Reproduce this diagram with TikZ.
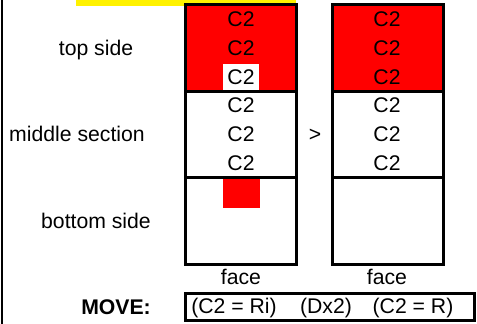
\documentclass[tikz,border=0pt]{standalone}
\usepackage{fontspec}
\setmainfont{Liberation Sans}
\usepackage{tikz}

\begin{document}
\begin{tikzpicture}[x=0.5pt,y=-0.5pt]
            \tikzstyle{every node}=[font=\fontsize{10.6}{12}\selectfont, inner sep=0pt, anchor=base]
            \tikzstyle{face}=[draw, line width=1.5pt]
            \tikzstyle{lit}=[fill=red]
            \useasboundingbox (0,0) rectangle (477,324);
            \fill[yellow] (76,0) rectangle (296,6);
            \draw[line width=1pt] (2,0) -- (2,324);
            % left face
            \fill[lit] (185,5) rectangle (296,92);
            \fill[lit] (223,179) rectangle (260,208);
            \draw[face] (185,5) rectangle (296,265);
            \draw[face] (185,92) -- (296,92) (185,178) -- (296,178);
            % right face
            \fill[lit] (332,5) rectangle (443,92);
            \draw[face] (332,5) rectangle (443,265);
            \draw[face] (332,92) -- (443,92) (332,178) -- (443,178);
            % side labels
            \node (topside) at (96,56) {top side};
            \node (midsection) at (77,142) {middle section};
            \node (botside) at (96,229) {bottom side};
            \node (gt) at (315,142) {>};
            % stickers, left face
            \node (l1) at (241,27) {C2};
            \node (l2) at (241,56) {C2};
            \node[anchor=center, fill=white, minimum width=18pt, minimum height=13pt] (l3) at (241,77) {C2};
            \node (l4) at (241,113) {C2};
            \node (l5) at (241,142) {C2};
            \node (l6) at (241,171) {C2};
            % stickers, right face
            \node (r1) at (387,27) {C2};
            \node (r2) at (387,56) {C2};
            \node (r3) at (387,85) {C2};
            \node (r4) at (387,113) {C2};
            \node (r5) at (387,142) {C2};
            \node (r6) at (387,171) {C2};
            \node (faceL) at (241,285) {face};
            \node (faceR) at (387,285) {face};
            % moves
            \node[font=\fontsize{10.6}{12}\selectfont\bfseries] (move) at (116,315) {MOVE:};
            \draw[face] (185,294) rectangle (474.5,320.5);
            \node (mvA) at (234,314) {(C2 = Ri)};
            \node (mvB) at (326,314) {(Dx2)};
            \node (mvC) at (413,314) {(C2 = R)};
\end{tikzpicture}
\end{document}
